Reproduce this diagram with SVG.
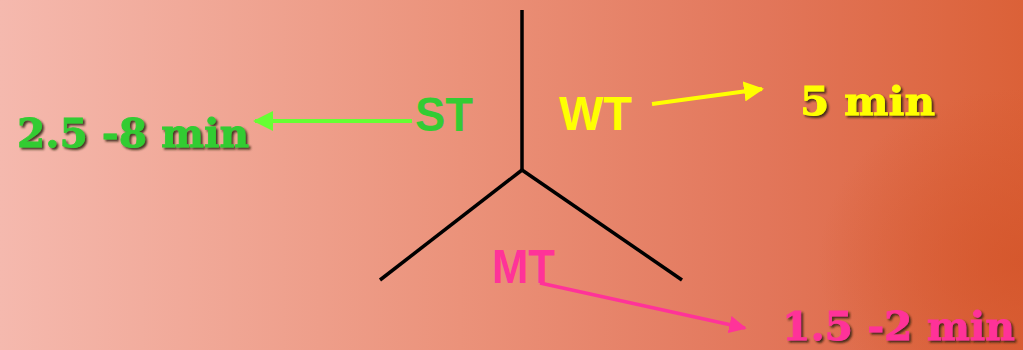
<svg xmlns="http://www.w3.org/2000/svg" width="1023" height="350" viewBox="0 0 1023 350">
<defs>
<linearGradient id="bg" x1="0" y1="0" x2="1" y2="0">
<stop offset="0" stop-color="#f5b9ae"/>
<stop offset="0.45" stop-color="#eb927a"/>
<stop offset="0.75" stop-color="#e2765a"/>
<stop offset="1" stop-color="#db6138"/>
</linearGradient>
<radialGradient id="glow" cx="1" cy="0.75" r="0.5" gradientTransform="matrix(0.4 0 0 1 0.6 0)">
<stop offset="0" stop-color="#d4552a" stop-opacity="0.8"/>
<stop offset="1" stop-color="#d4552a" stop-opacity="0"/>
</radialGradient>
<filter id="shadow" x="-2%" y="-5%" width="104%" height="112%">
<feDropShadow dx="2" dy="2" stdDeviation="1" flood-color="#2a1a10" flood-opacity="0.85"/>
</filter>
<marker id="arrG" viewBox="0 0 10 10" refX="9" refY="5" markerWidth="5" markerHeight="5" orient="auto" markerUnits="strokeWidth">
<path d="M0,0 L10,5 L0,10 z" fill="#66ff33"/>
</marker>
<marker id="arrY" viewBox="0 0 10 10" refX="9" refY="5" markerWidth="5" markerHeight="5" orient="auto" markerUnits="strokeWidth">
<path d="M0,0 L10,5 L0,10 z" fill="#ffff00"/>
</marker>
<marker id="arrP" viewBox="0 0 10 10" refX="9" refY="5" markerWidth="5" markerHeight="5" orient="auto" markerUnits="strokeWidth">
<path d="M0,0 L10,5 L0,10 z" fill="#ff3399"/>
</marker>
</defs>
<style>
.lbl{font-family:"Liberation Sans",Arial,sans-serif;font-weight:bold;font-size:49px}
.val{font-family:"DejaVu Serif","Liberation Serif",serif;font-weight:bold;font-size:40px;stroke-width:0.8;filter:url(#shadow)}
.axis{stroke:#000;stroke-width:3.5;fill:none}
</style>
<rect width="1023" height="350" fill="url(#bg)"/>
<rect width="1023" height="350" fill="url(#glow)"/>
<g id="axes">
<line class="axis" x1="522" y1="10" x2="522" y2="170"/>
<line class="axis" x1="522" y1="170" x2="380" y2="280"/>
<line class="axis" x1="522" y1="170" x2="682" y2="280"/>
</g>
<g id="connectors">
<line x1="412" y1="121" x2="255" y2="121" stroke="#66ff33" stroke-width="4" marker-end="url(#arrG)"/>
<line x1="652" y1="104" x2="762" y2="89" stroke="#ffff00" stroke-width="4" marker-end="url(#arrY)"/>
<line x1="540" y1="283" x2="745" y2="328" stroke="#ff3399" stroke-width="3.5" marker-end="url(#arrP)"/>
</g>
<g id="ST"><text class="lbl" x="415" y="131" fill="#33cc33" textLength="58" lengthAdjust="spacingAndGlyphs">ST</text></g>
<g id="WT"><text class="lbl" x="559" y="130" fill="#ffff00" textLength="73" lengthAdjust="spacingAndGlyphs">WT</text></g>
<g id="MT"><text class="lbl" x="492" y="283" fill="#ff3399" textLength="63" lengthAdjust="spacingAndGlyphs">MT</text></g>
<g id="ST-value"><text class="val" x="17" y="147" fill="#33cc33" stroke="#33cc33" textLength="232" lengthAdjust="spacingAndGlyphs">2.5 -8 min</text></g>
<g id="WT-value"><text class="val" x="800" y="115" fill="#ffff00" stroke="#ffff00" textLength="135" lengthAdjust="spacingAndGlyphs">5 min</text></g>
<g id="MT-value"><text class="val" x="782" y="340" fill="#ff3399" stroke="#ff3399" textLength="233" lengthAdjust="spacingAndGlyphs">1.5 -2 min</text></g>
</svg>
